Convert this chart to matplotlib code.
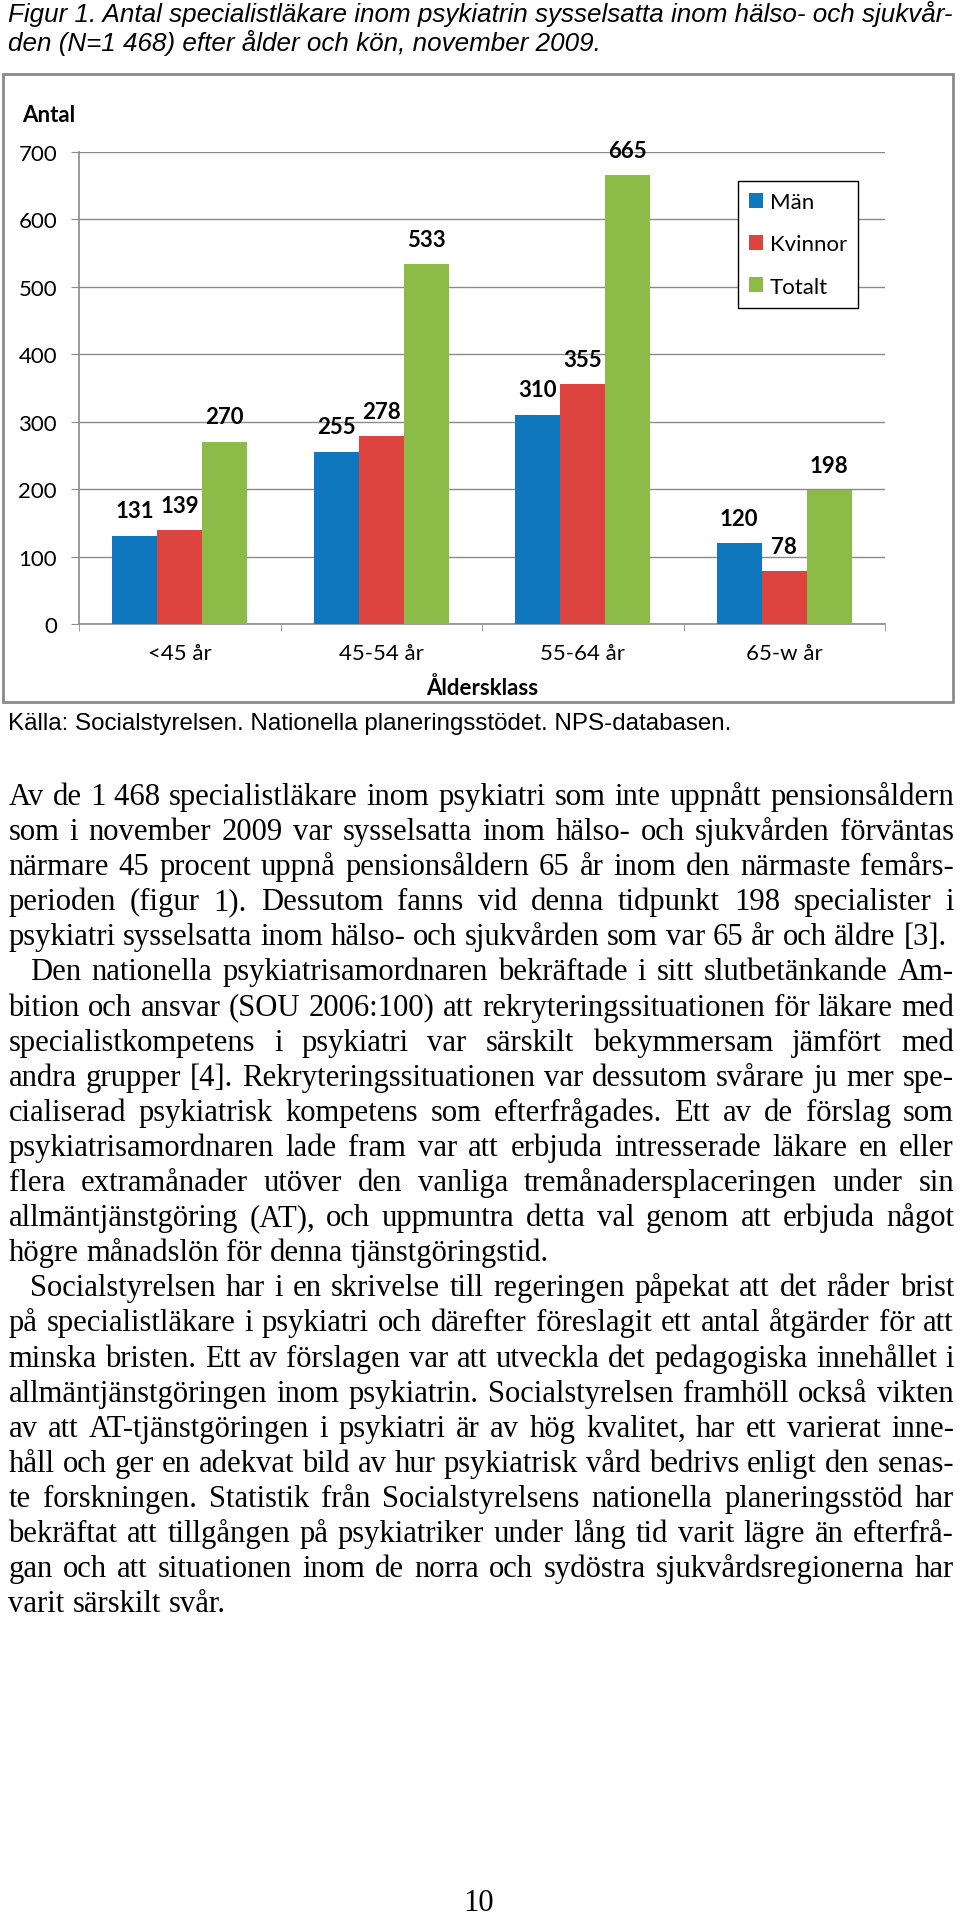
"""Figur 1 – specialistläkare inom psykiatrin, efter ålder och kön (nov 2009).

Återskapar hela sidan: bildtext, stapeldiagram, källa och brödtext.
"""

import matplotlib

matplotlib.use("Agg")
import matplotlib.pyplot as plt
import numpy as np
from matplotlib.patches import Rectangle

W, H = 960, 1915

# =========================
# Data
# =========================
age_classes = ["<45 år", "45-54 år", "55-64 år", "65-w år"]
man = [131, 255, 310, 120]
kvinnor = [139, 278, 355, 78]
totalt = [270, 533, 665, 198]
series_names = ["Män", "Kvinnor", "Totalt"]
series_colors = ["#0E77BE", "#DD4440", "#8CBB48"]
y_ticks = [0, 100, 200, 300, 400, 500, 600, 700]

caption_lines = [
    "Figur 1. Antal specialistläkare inom psykiatrin sysselsatta inom hälso- och sjukvår-",
    "den (N=1 468) efter ålder och kön, november 2009.",
]
source_text = "Källa: Socialstyrelsen. Nationella planeringsstödet. NPS-databasen."

body_paragraphs = [
    [
        "Av de 1\u00a0468 specialistläkare inom psykiatri som inte uppnått pensionsåldern",
        "som i november 2009 var sysselsatta inom hälso- och sjukvården förväntas",
        "närmare 45 procent uppnå pensionsåldern 65 år inom den närmaste femårs-",
        "perioden (figur 1). Dessutom fanns vid denna tidpunkt 198 specialister i",
        "psykiatri sysselsatta inom hälso- och sjukvården som var 65 år och äldre [3].",
    ],
    [
        "Den nationella psykiatrisamordnaren bekräftade i sitt slutbetänkande Am-",
        "bition och ansvar (SOU 2006:100) att rekryteringssituationen för läkare med",
        "specialistkompetens i psykiatri var särskilt bekymmersam jämfört med",
        "andra grupper [4]. Rekryteringssituationen var dessutom svårare ju mer spe-",
        "cialiserad psykiatrisk kompetens som efterfrågades. Ett av de förslag som",
        "psykiatrisamordnaren lade fram var att erbjuda intresserade läkare en eller",
        "flera extramånader utöver den vanliga tremånadersplaceringen under sin",
        "allmäntjänstgöring (AT), och uppmuntra detta val genom att erbjuda något",
        "högre månadslön för denna tjänstgöringstid.",
    ],
    [
        "Socialstyrelsen har i en skrivelse till regeringen påpekat att det råder brist",
        "på specialistläkare i psykiatri och därefter föreslagit ett antal åtgärder för att",
        "minska bristen. Ett av förslagen var att utveckla det pedagogiska innehållet i",
        "allmäntjänstgöringen inom psykiatrin. Socialstyrelsen framhöll också vikten",
        "av att AT-tjänstgöringen i psykiatri är av hög kvalitet, har ett varierat inne-",
        "håll och ger en adekvat bild av hur psykiatrisk vård bedrivs enligt den senas-",
        "te forskningen. Statistik från Socialstyrelsens nationella planeringsstöd har",
        "bekräftat att tillgången på psykiatriker under lång tid varit lägre än efterfrå-",
        "gan och att situationen inom de norra och sydöstra sjukvårdsregionerna har",
        "varit särskilt svår.",
    ],
]
page_number = "10"

CHART_FONT = "Lato"
CHART_SIZE = 16
SERIF = "Liberation Serif"
SANS = "Liberation Sans"
GRID = "#8a8a8a"


def fx(px: float) -> float:
    return px / W


def fy(py: float) -> float:
    return 1 - py / H


fig = plt.figure(figsize=(W / 100, H / 100), dpi=100)
fig.patch.set_facecolor("white")
renderer = fig.canvas.get_renderer()


def text_width(s: str, **kw) -> float:
    t = fig.text(0, 0, s, **kw)
    w = t.get_window_extent(renderer).width
    t.remove()
    return w


# ---------- bildtext ----------
cap_kw = dict(family=SANS, style="italic")
cap_size = 16 * 945 / text_width(caption_lines[0], fontsize=16, **cap_kw)
for line, base in zip(caption_lines, [22, 51]):
    fig.text(fx(8), fy(base), line, fontsize=cap_size, va="baseline", ha="left", **cap_kw)

# ---------- diagrammet ----------
fig.patches.append(
    Rectangle((fx(3), fy(703)), (953 - 3) / W, (703 - 75) / H, transform=fig.transFigure,
              fill=False, ec=GRID, lw=2)
)

ax = fig.add_axes([fx(79), fy(625), (885 - 79) / W, (625 - 152.7) / H])
x = np.arange(len(age_classes))
bw = 0.2233
handles = []
for off, vals, name, col in zip([-bw, 0, bw], [man, kvinnor, totalt], series_names, series_colors):
    bars = ax.bar(x + off, vals, bw, color=col, label=name, zorder=3)
    handles.append(bars)
    for rect, v in zip(bars, vals):
        ax.annotate(str(v), (rect.get_x() + rect.get_width() / 2, v), xytext=(0, 25),
                    textcoords="offset pixels", ha="center", va="center",
                    fontsize=CHART_SIZE, fontweight="bold", family=CHART_FONT)

ax.set_xlim(-0.5, 3.5)
ax.set_ylim(0, 700)
ax.set_yticks(y_ticks)
ax.yaxis.grid(True, color=GRID, lw=1)
ax.set_axisbelow(True)
for side in ["top", "right"]:
    ax.spines[side].set_visible(False)
for side in ["left", "bottom"]:
    ax.spines[side].set_color(GRID)
    ax.spines[side].set_linewidth(1.2)
ax.set_xticks(x, age_classes)
ax.set_xticks(np.arange(-0.5, 4, 1), minor=True)
ax.tick_params(axis="y", length=5.8, color=GRID, labelsize=CHART_SIZE, pad=10)
ax.tick_params(axis="x", which="major", length=0, labelsize=CHART_SIZE, pad=14)
ax.tick_params(axis="x", which="minor", length=5, color=GRID)
for lbl in ax.get_xticklabels() + ax.get_yticklabels():
    lbl.set_family(CHART_FONT)

fig.text(fx(22), fy(116), "Antal", ha="left", va="center", fontsize=CHART_SIZE,
         fontweight="bold", family=CHART_FONT)
fig.text(fx(482), fy(688), "Åldersklass", ha="center", va="center", fontsize=CHART_SIZE,
         fontweight="bold", family=CHART_FONT)

leg = fig.legend(handles, series_names, loc="upper left", bbox_to_anchor=(fx(738), fy(182)),
                 frameon=True, fancybox=False, edgecolor="black", framealpha=1,
                 borderpad=0.5, labelspacing=1.0, handlelength=0.63, handleheight=0.63,
                 handletextpad=0.3, borderaxespad=0,
                 prop={"family": CHART_FONT, "size": CHART_SIZE})
leg.get_frame().set_linewidth(1.0)

# ---------- källa ----------
src_kw = dict(family=SANS)
src_size = 16 * 725 / text_width(source_text, fontsize=16, **src_kw)
fig.text(fx(8.5), fy(730), source_text, fontsize=src_size, va="baseline", ha="left", **src_kw)

# ---------- brödtext, marginaljusterad ----------
left, right, indent = 8.5, 954, 22
base_size = 20
body_kw = dict(family=SERIF)

natural = []
for p_idx, para in enumerate(body_paragraphs):
    for i, line in enumerate(para[:-1]):
        start = left + (indent if (p_idx > 0 and i == 0) else 0)
        natural.append(text_width(line, fontsize=base_size, **body_kw) / (right - start))
body_size = base_size / max(natural) * 0.995
space_w = text_width("a a", fontsize=body_size, **body_kw) - text_width("aa", fontsize=body_size, **body_kw)

baseline = 805
step = 35.1
for p_idx, para in enumerate(body_paragraphs):
    for i, line in enumerate(para):
        start = left + (indent if (p_idx > 0 and i == 0) else 0)
        words = line.split(" ")
        widths = [text_width(w, fontsize=body_size, **body_kw) for w in words]
        last = i == len(para) - 1
        if last or len(words) < 2:
            gap = space_w
        else:
            gap = (right - start - sum(widths)) / (len(words) - 1)
        xpos = start
        for w, wd in zip(words, widths):
            fig.text(fx(xpos), fy(baseline), w, fontsize=body_size, ha="left", va="baseline",
                     **body_kw)
            xpos += wd + gap
        baseline += step

fig.text(fx(479), fy(1911), page_number, ha="center", va="baseline", fontsize=body_size,
         family=SERIF)

fig.savefig("out.png", dpi=100)
